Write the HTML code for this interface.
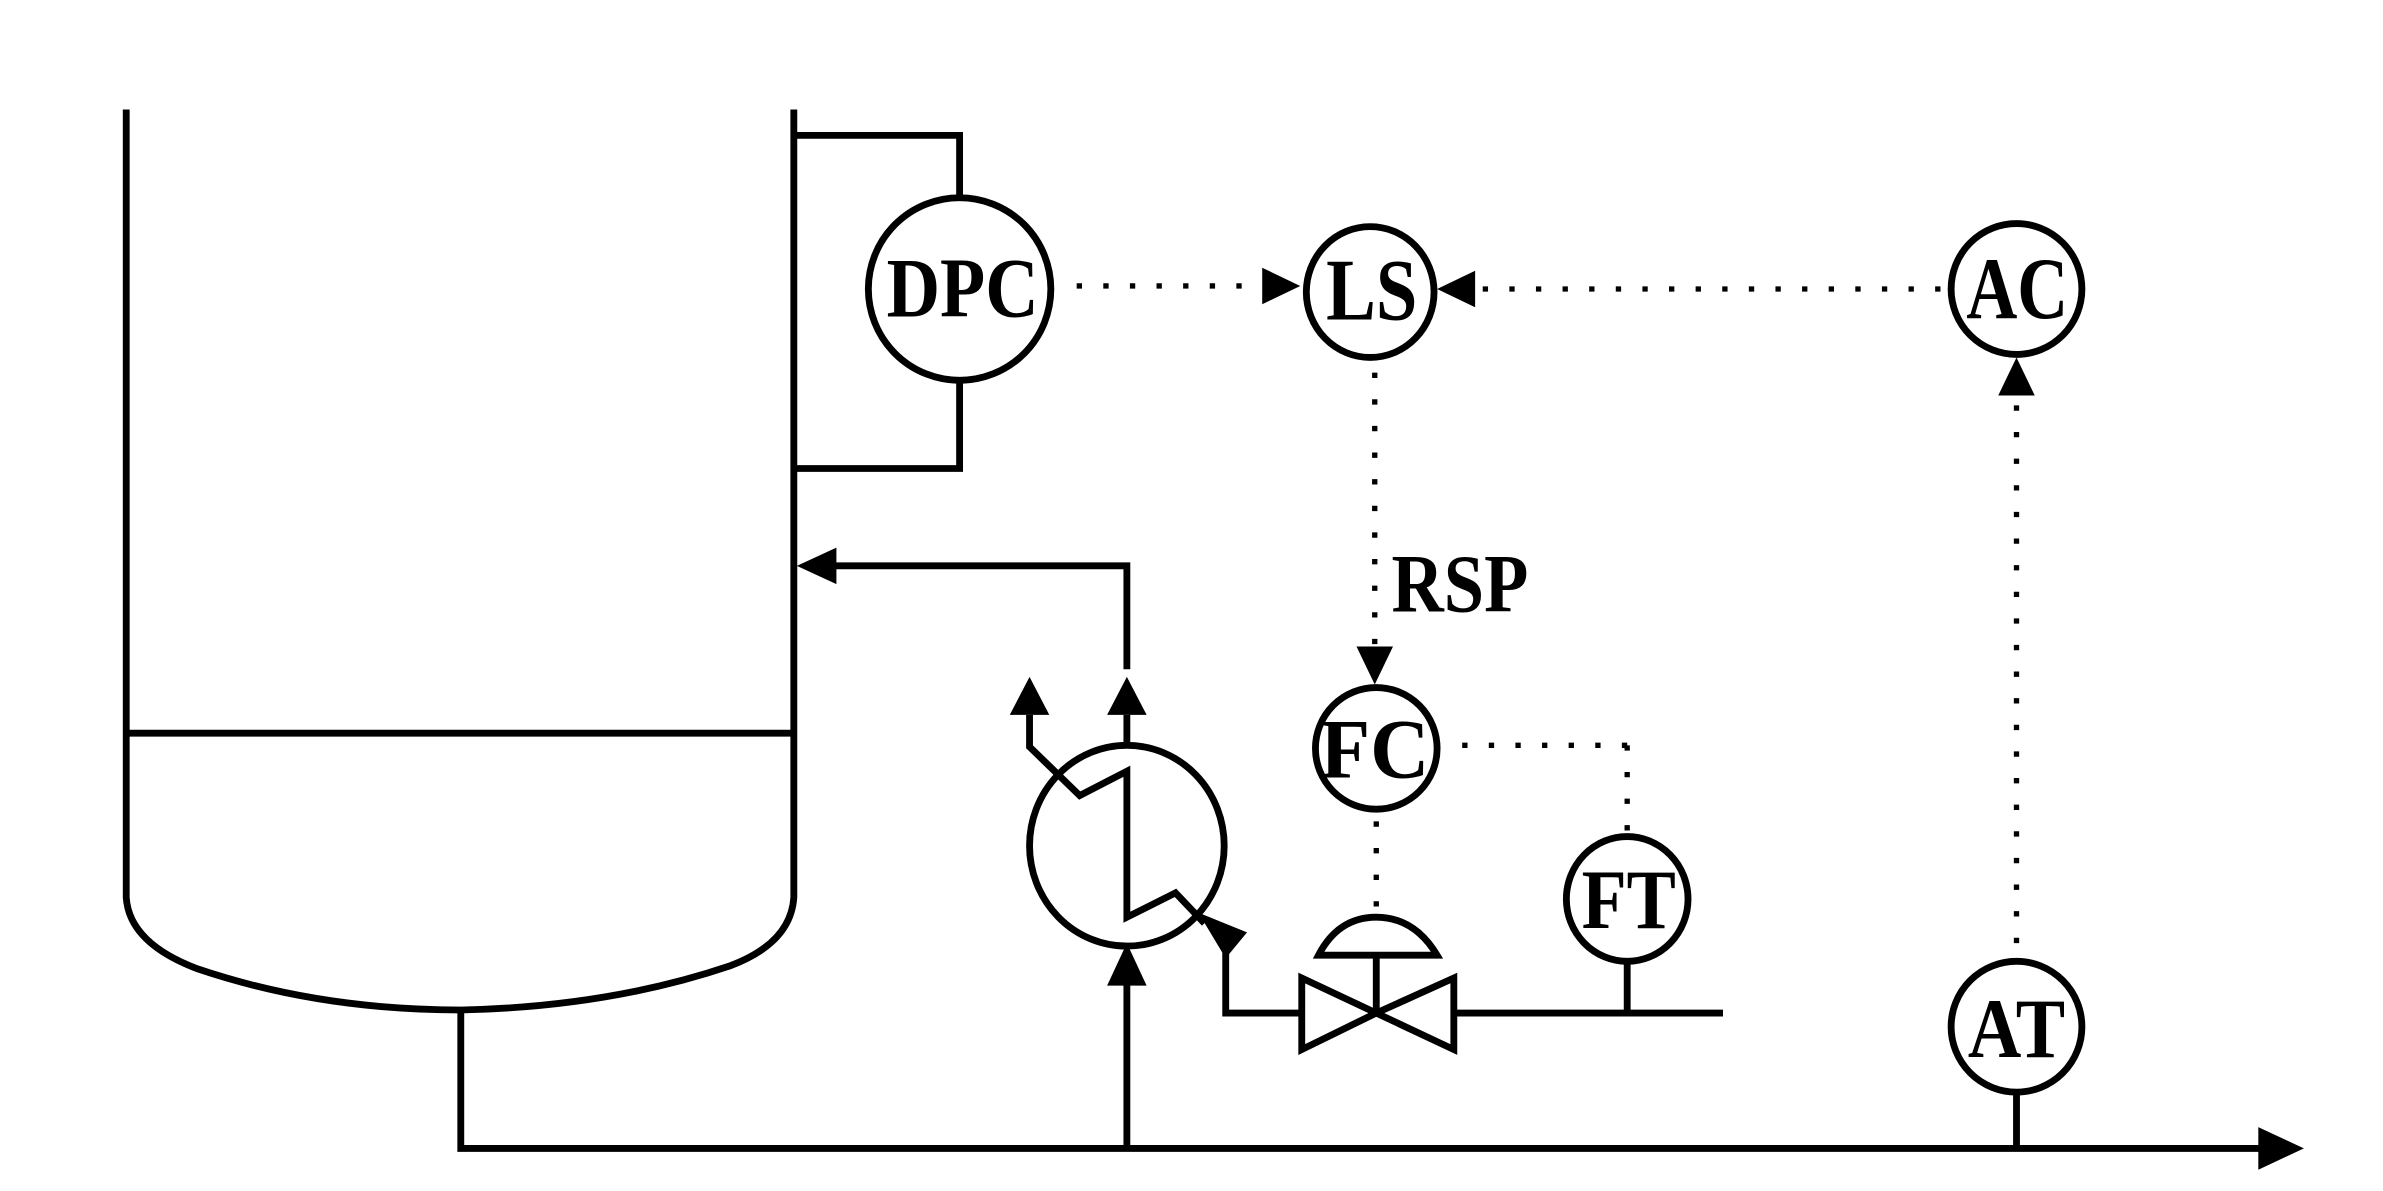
<!DOCTYPE html>
<html><head><meta charset="utf-8"><style>
html,body{margin:0;padding:0;background:#fff;}
svg{display:block;}
text{font-family:"Liberation Serif","Times New Roman",serif;font-weight:bold;fill:#000;}
</style></head><body>
<svg width="2383" height="1191" viewBox="0 0 1567 783" preserveAspectRatio="none" xmlns="http://www.w3.org/2000/svg">
<g fill="none" stroke="#000" stroke-width="4.5" stroke-linejoin="miter">
<path d="M83 72 V590 Q85 620 130 637 Q210 664 303 664 Q400 662 480 635 Q520 620 522 590 V72"/>
<line x1="83" y1="482" x2="522" y2="482"/>
<polyline points="522,89 631,89 631,130"/>
<polyline points="631,250 631,308 522,308"/>
<ellipse cx="631" cy="190" rx="60" ry="60"/>
<ellipse cx="901" cy="192" rx="42" ry="43"/>
<ellipse cx="1326" cy="190" rx="43" ry="43"/>
<ellipse cx="905" cy="492" rx="40" ry="40"/>
<ellipse cx="1070" cy="591" rx="40" ry="41"/>
<ellipse cx="1326" cy="675" rx="43" ry="43"/>
<line x1="1070" y1="632" x2="1070" y2="666"/>
<line x1="1326" y1="718" x2="1326" y2="755"/>
<polyline points="741,440 741,372 548,372"/>
<ellipse cx="741" cy="556" rx="64" ry="66"/>
<polyline points="741,490 741,470"/>
<polyline points="677,470 677,491 710,523 741,507 741,603 773,587 792,607"/>
<polyline points="806,615 806,666 856,666"/>
<line x1="741" y1="755" x2="741" y2="645"/>
<polyline points="303,664 303,755 1487,755"/>
<polygon points="856,643 856,690 905,666"/>
<polygon points="956,643 956,690 905,666"/>
<line x1="905" y1="628" x2="905" y2="666"/>
<path d="M867 628 Q880 603 905 603 Q930 603 945 628 Z"/>
<line x1="956" y1="666" x2="1133" y2="666"/>
</g>
<g fill="none" stroke="#000" stroke-width="3.5" stroke-dasharray="3.5 14">
<line x1="708" y1="188" x2="830" y2="188"/>
<line x1="975" y1="190" x2="1280" y2="190"/>
<line x1="904" y1="245" x2="904" y2="425"/>
<line x1="1070" y1="490" x2="956" y2="490"/>
<line x1="1070" y1="490" x2="1070" y2="548"/>
<line x1="905" y1="540" x2="905" y2="600"/>
<line x1="1326" y1="620" x2="1326" y2="262"/>
</g>
<g fill="#000" stroke="none">
<polygon points="855,188 830,176 830,200"/>
<polygon points="945,190 970,178 970,202"/>
<polygon points="904,450 892,425 916,425"/>
<polygon points="1326,235 1314,260 1338,260"/>
<polygon points="524,372 550,360 550,384"/>
<polygon points="677,445 664,470 690,470"/>
<polygon points="741,445 728,470 754,470"/>
<polygon points="741,620 728,648 754,648"/>
<polygon points="788,600 820,613 806,630"/>
<polygon points="1515,755 1485,741 1485,769"/>
</g>
<text x="583" y="208" font-size="56" textLength="100" lengthAdjust="spacingAndGlyphs">DPC</text>
<text x="872" y="210" font-size="58" textLength="60" lengthAdjust="spacingAndGlyphs">LS</text>
<text x="1293" y="209" font-size="58" textLength="67" lengthAdjust="spacingAndGlyphs">AC</text>
<text x="915" y="402" font-size="54" textLength="90" lengthAdjust="spacingAndGlyphs">RSP</text>
<text x="868" y="511" font-size="56" textLength="72" lengthAdjust="spacingAndGlyphs">FC</text>
<text x="1040" y="610" font-size="56" textLength="62" lengthAdjust="spacingAndGlyphs">FT</text>
<text x="1294" y="695" font-size="56" textLength="64" lengthAdjust="spacingAndGlyphs">AT</text>
</svg>
</body></html>
